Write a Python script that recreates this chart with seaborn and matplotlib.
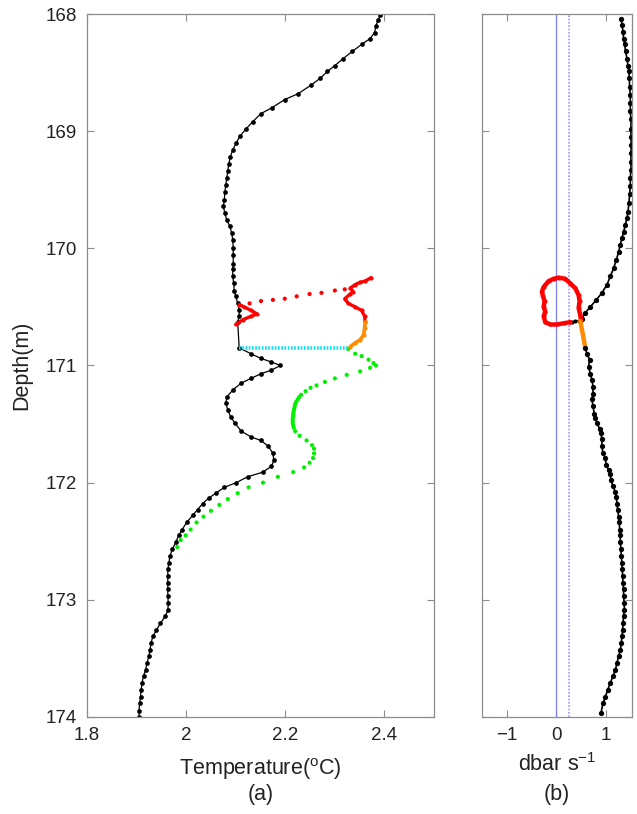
import numpy as np
import pandas as pd
import matplotlib
matplotlib.use("Agg")
import matplotlib.pyplot as plt
import seaborn as sns

# ---- panel (a): temperature profile ----
black_depth = [168.01, 168.05, 168.10, 168.16, 168.21, 168.26, 168.32, 168.38, 168.44, 168.49,
               168.55, 168.61, 168.68, 168.73, 168.80, 168.85, 168.92, 168.98, 169.04, 169.10,
               169.16, 169.22, 169.28, 169.34, 169.40, 169.46, 169.52, 169.59, 169.64, 169.70,
               169.76, 169.81, 169.87, 169.93, 170.00, 170.06, 170.13, 170.18, 170.24, 170.30,
               170.36, 170.41, 170.47, 170.53, 170.58, 170.63, 170.85, 170.90, 170.94, 170.97,
               171.00, 171.04, 171.07, 171.11, 171.15, 171.21, 171.27, 171.32, 171.38, 171.44,
               171.49, 171.56, 171.61, 171.64, 171.69, 171.75, 171.81, 171.86, 171.91, 171.95,
               172.00, 172.04, 172.09, 172.13, 172.18, 172.23, 172.28, 172.34, 172.40, 172.45,
               172.51, 172.57, 172.63, 172.69, 172.74, 172.80, 172.86, 172.91, 172.97, 173.03,
               173.09, 173.14, 173.20, 173.26, 173.31, 173.37, 173.43, 173.48, 173.54, 173.60,
               173.65, 173.71, 173.77, 173.83, 173.88, 173.95, 174.00]
black_temp = [2.392, 2.387, 2.383, 2.380, 2.371, 2.354, 2.335, 2.317, 2.300, 2.285,
              2.270, 2.251, 2.226, 2.199, 2.173, 2.151, 2.134, 2.121, 2.109, 2.101,
              2.094, 2.089, 2.086, 2.084, 2.082, 2.080, 2.078, 2.077, 2.075, 2.078,
              2.082, 2.088, 2.092, 2.094, 2.095, 2.095, 2.095, 2.094, 2.094, 2.096,
              2.097, 2.100, 2.104, 2.107, 2.107, 2.104, 2.107, 2.131, 2.151, 2.172,
              2.190, 2.172, 2.151, 2.131, 2.111, 2.094, 2.082, 2.080, 2.084, 2.090,
              2.098, 2.111, 2.131, 2.151, 2.166, 2.175, 2.177, 2.172, 2.155, 2.124,
              2.101, 2.077, 2.060, 2.046, 2.033, 2.023, 2.013, 2.001, 1.992, 1.985,
              1.979, 1.972, 1.967, 1.965, 1.963, 1.963, 1.963, 1.963, 1.963, 1.964,
              1.963, 1.958, 1.948, 1.940, 1.933, 1.929, 1.927, 1.925, 1.921, 1.918,
              1.914, 1.911, 1.909, 1.908, 1.906, 1.905, 1.905]

red_sparse_depth = [170.47, 170.45, 170.44, 170.43, 170.41, 170.39, 170.38, 170.36, 170.35]
red_sparse_temp = [2.128, 2.151, 2.175, 2.199, 2.223, 2.249, 2.273, 2.300, 2.320]

red_zig_depth = [170.65, 170.61, 170.58, 170.56, 170.53, 170.50, 170.48]
red_zig_temp = [2.100, 2.114, 2.131, 2.143, 2.131, 2.117, 2.107]

red_right_depth = [170.63, 170.58, 170.53, 170.50, 170.47, 170.43, 170.39, 170.37, 170.34,
                   170.31, 170.29, 170.28, 170.25]
red_right_temp = [2.361, 2.360, 2.354, 2.341, 2.327, 2.320, 2.331, 2.337, 2.331,
                  2.341, 2.351, 2.361, 2.373]

orange_depth = [170.63, 170.68, 170.74, 170.78, 170.81, 170.84]
orange_temp = [2.361, 2.360, 2.358, 2.351, 2.340, 2.331]

cyan_depth = [170.855, 170.855]
cyan_temp = [2.107, 2.327]

green_depth = [170.86, 170.90, 170.92, 170.95, 170.98, 171.00, 171.02, 171.05, 171.08, 171.11,
               171.14, 171.17, 171.19, 171.22, 171.25, 171.27, 171.29, 171.31, 171.33, 171.35,
               171.37, 171.39, 171.41, 171.43, 171.45, 171.47, 171.49, 171.51, 171.53, 171.56,
               171.60, 171.64, 171.68, 171.71, 171.75, 171.79, 171.83, 171.87, 171.91, 171.95,
               172.00, 172.04, 172.09, 172.14, 172.19, 172.24, 172.29, 172.34, 172.40, 172.45,
               172.49, 172.55]
green_temp = [2.327, 2.341, 2.354, 2.368, 2.378, 2.383, 2.371, 2.351, 2.324, 2.300,
              2.280, 2.263, 2.251, 2.241, 2.232, 2.228, 2.225, 2.222, 2.220, 2.219,
              2.218, 2.217, 2.216, 2.216, 2.215, 2.215, 2.215, 2.216, 2.217, 2.220,
              2.229, 2.243, 2.254, 2.258, 2.258, 2.256, 2.249, 2.238, 2.216, 2.185,
              2.155, 2.126, 2.104, 2.084, 2.067, 2.050, 2.035, 2.021, 2.009, 1.999,
              1.989, 1.982]

# ---- panel (b): pressure rate ----
rate_up_depth = [168.04, 168.09, 168.15, 168.21, 168.26, 168.32, 168.38, 168.44, 168.49, 168.55,
                 168.62, 168.69, 168.76, 168.83, 168.90, 168.98, 169.05, 169.12, 169.19, 169.26,
                 169.33, 169.40, 169.47, 169.54, 169.61, 169.69, 169.74, 169.80, 169.86, 169.91,
                 169.97, 170.03, 170.10, 170.17, 170.24, 170.31, 170.38, 170.44, 170.50, 170.55,
                 170.60, 170.62]
rate_up = [1.313, 1.327, 1.347, 1.360, 1.380, 1.400, 1.428, 1.448, 1.468, 1.475,
           1.481, 1.495, 1.495, 1.495, 1.508, 1.508, 1.508, 1.515, 1.508, 1.508,
           1.508, 1.495, 1.495, 1.481, 1.468, 1.448, 1.428, 1.394, 1.360, 1.327,
           1.293, 1.259, 1.212, 1.158, 1.091, 1.024, 0.923, 0.808, 0.687, 0.586,
           0.519, 0.485]

rate_link_depth = [170.63, 170.63, 170.62, 170.62]
rate_link = [0.283, 0.317, 0.384, 0.485]

rate_loop_depth = [170.61, 170.57, 170.51, 170.45, 170.40, 170.34, 170.30, 170.26, 170.25, 170.26,
                   170.28, 170.33, 170.37, 170.41, 170.45, 170.50, 170.54, 170.58, 170.63, 170.65,
                   170.65, 170.64, 170.63]
rate_loop = [0.498, 0.485, 0.451, 0.471, 0.451, 0.384, 0.283, 0.182, 0.047, -0.054,
             -0.155, -0.256, -0.290, -0.269, -0.236, -0.256, -0.222, -0.256, -0.222, -0.121,
             0.013, 0.148, 0.283]

rate_orange_depth = [170.62, 170.73, 170.85]
rate_orange = [0.485, 0.535, 0.586]

rate_down_depth = [170.85, 170.90, 170.95, 171.01, 171.07, 171.12, 171.18, 171.24, 171.29, 171.35,
                   171.41, 171.45, 171.49, 171.54, 171.58, 171.63, 171.69, 171.75, 171.79, 171.85,
                   171.89, 171.93, 171.98, 172.03, 172.08, 172.12, 172.18, 172.23, 172.29, 172.34,
                   172.40, 172.45, 172.51, 172.57, 172.63, 172.69, 172.74, 172.80, 172.86, 172.91,
                   172.97, 173.03, 173.09, 173.14, 173.20, 173.26, 173.31, 173.37, 173.43, 173.48,
                   173.54, 173.60, 173.65, 173.71, 173.77, 173.83, 173.88, 173.97]
rate_down = [0.586, 0.620, 0.673, 0.653, 0.687, 0.721, 0.741, 0.741, 0.721, 0.741,
             0.768, 0.788, 0.822, 0.875, 0.902, 0.923, 0.923, 0.943, 0.990, 1.010,
             1.057, 1.091, 1.104, 1.145, 1.192, 1.212, 1.226, 1.239, 1.259, 1.273,
             1.280, 1.293, 1.293, 1.307, 1.313, 1.327, 1.333, 1.340, 1.347, 1.360,
             1.360, 1.374, 1.374, 1.360, 1.347, 1.340, 1.327, 1.313, 1.293, 1.259,
             1.226, 1.192, 1.145, 1.091, 1.037, 0.990, 0.943, 0.902]

zero_line = 0.0
threshold_line = 0.25

sns.set_theme(style="ticks")
plt.rcParams['font.family'] = ['Liberation Sans', 'DejaVu Sans']
plt.rcParams['mathtext.fontset'] = 'custom'
plt.rcParams['mathtext.rm'] = 'Liberation Sans'

RED = '#ff0000'
GREEN = '#00f000'
CYAN = '#00e5ff'
ORANGE = '#ff8c00'
GREY = '#8c8c8c'
TXT = '#222222'
TICK_FS = 13.5
LABEL_FS = 15.5

fig = plt.figure(figsize=(6.37, 8.14), dpi=100)
ax1 = fig.add_axes([0.1366, 0.1192, 0.5447, 0.8636])
ax2 = fig.add_axes([0.7567, 0.1192, 0.2355, 0.8636])


def line(ax, x, y, color, lw=0.8, ms=3.0, marker='o', ls='-'):
    sns.lineplot(x=x, y=y, ax=ax, sort=False, estimator=None, color=color,
                 lw=lw, marker=marker, markersize=ms, markeredgewidth=0, linestyle=ls)


def dots(ax, x, y, color, s=9):
    sns.scatterplot(x=x, y=y, ax=ax, color=color, s=s, edgecolor='none', linewidth=0)


# panel (a)
line(ax1, black_temp, black_depth, 'black', lw=0.9, ms=3.4)
dots(ax1, red_sparse_temp, red_sparse_depth, RED)
line(ax1, red_zig_temp, red_zig_depth, RED, lw=2.4, ms=3.0)
line(ax1, red_right_temp, red_right_depth, RED, lw=2.4, ms=3.0)
line(ax1, orange_temp, orange_depth, ORANGE, lw=2.6, ms=3.0)
sns.lineplot(x=cyan_temp, y=cyan_depth, ax=ax1, sort=False, estimator=None,
             color=CYAN, lw=2.6, linestyle=(0, (0.45, 0.45)))
dots(ax1, green_temp, green_depth, GREEN)

ax1.set_xlim(1.8, 2.5)
ax1.set_ylim(174, 168)
ax1.set_xticks([1.8, 2.0, 2.2, 2.4])
ax1.set_xticklabels(['1.8', '2', '2.2', '2.4'])
ax1.set_yticks([168, 169, 170, 171, 172, 173, 174])
ax1.set_xlabel('Temperature($^{\\mathrm{o}}$C)', fontsize=LABEL_FS, labelpad=9, color=TXT)
ax1.set_ylabel('Depth(m)', fontsize=LABEL_FS, labelpad=10, color=TXT)

# panel (b)
ax2.axvline(zero_line, color='#7f7fff', lw=0.9)
ax2.axvline(threshold_line, color='#9999ff', lw=1.2, linestyle=(0, (1, 1)))
line(ax2, rate_up, rate_up_depth, 'black', lw=1.2, ms=3.8)
line(ax2, rate_link, rate_link_depth, 'black', lw=1.0, ms=3.0)
line(ax2, rate_loop, rate_loop_depth, RED, lw=3.2, ms=3.0)
line(ax2, rate_orange, rate_orange_depth, ORANGE, lw=3.2, ms=0)
line(ax2, rate_down, rate_down_depth, 'black', lw=1.2, ms=3.8)

ax2.set_xlim(-1.5, 1.53)
ax2.set_ylim(174, 168)
ax2.set_xticks([-1, 0, 1])
ax2.set_yticks([168, 169, 170, 171, 172, 173, 174])
ax2.set_yticklabels([])
ax2.set_ylabel('')
ax2.set_xlabel('dbar s$^{-1}$', fontsize=LABEL_FS, labelpad=7, color=TXT)

for ax in (ax1, ax2):
    ax.tick_params(direction='in', length=5, width=0.8, color=GREY, labelsize=TICK_FS,
                   labelcolor=TXT, top=True, right=True, pad=7)
    for sp in ax.spines.values():
        sp.set_color(GREY)
        sp.set_linewidth(0.9)

fig.text(0.1366 + 0.5447 / 2, 0.024, '(a)', ha='center', va='center', fontsize=LABEL_FS, color=TXT)
fig.text(0.7567 + 0.2355 / 2, 0.024, '(b)', ha='center', va='center', fontsize=LABEL_FS, color=TXT)

fig.savefig('out.png', dpi=100)
